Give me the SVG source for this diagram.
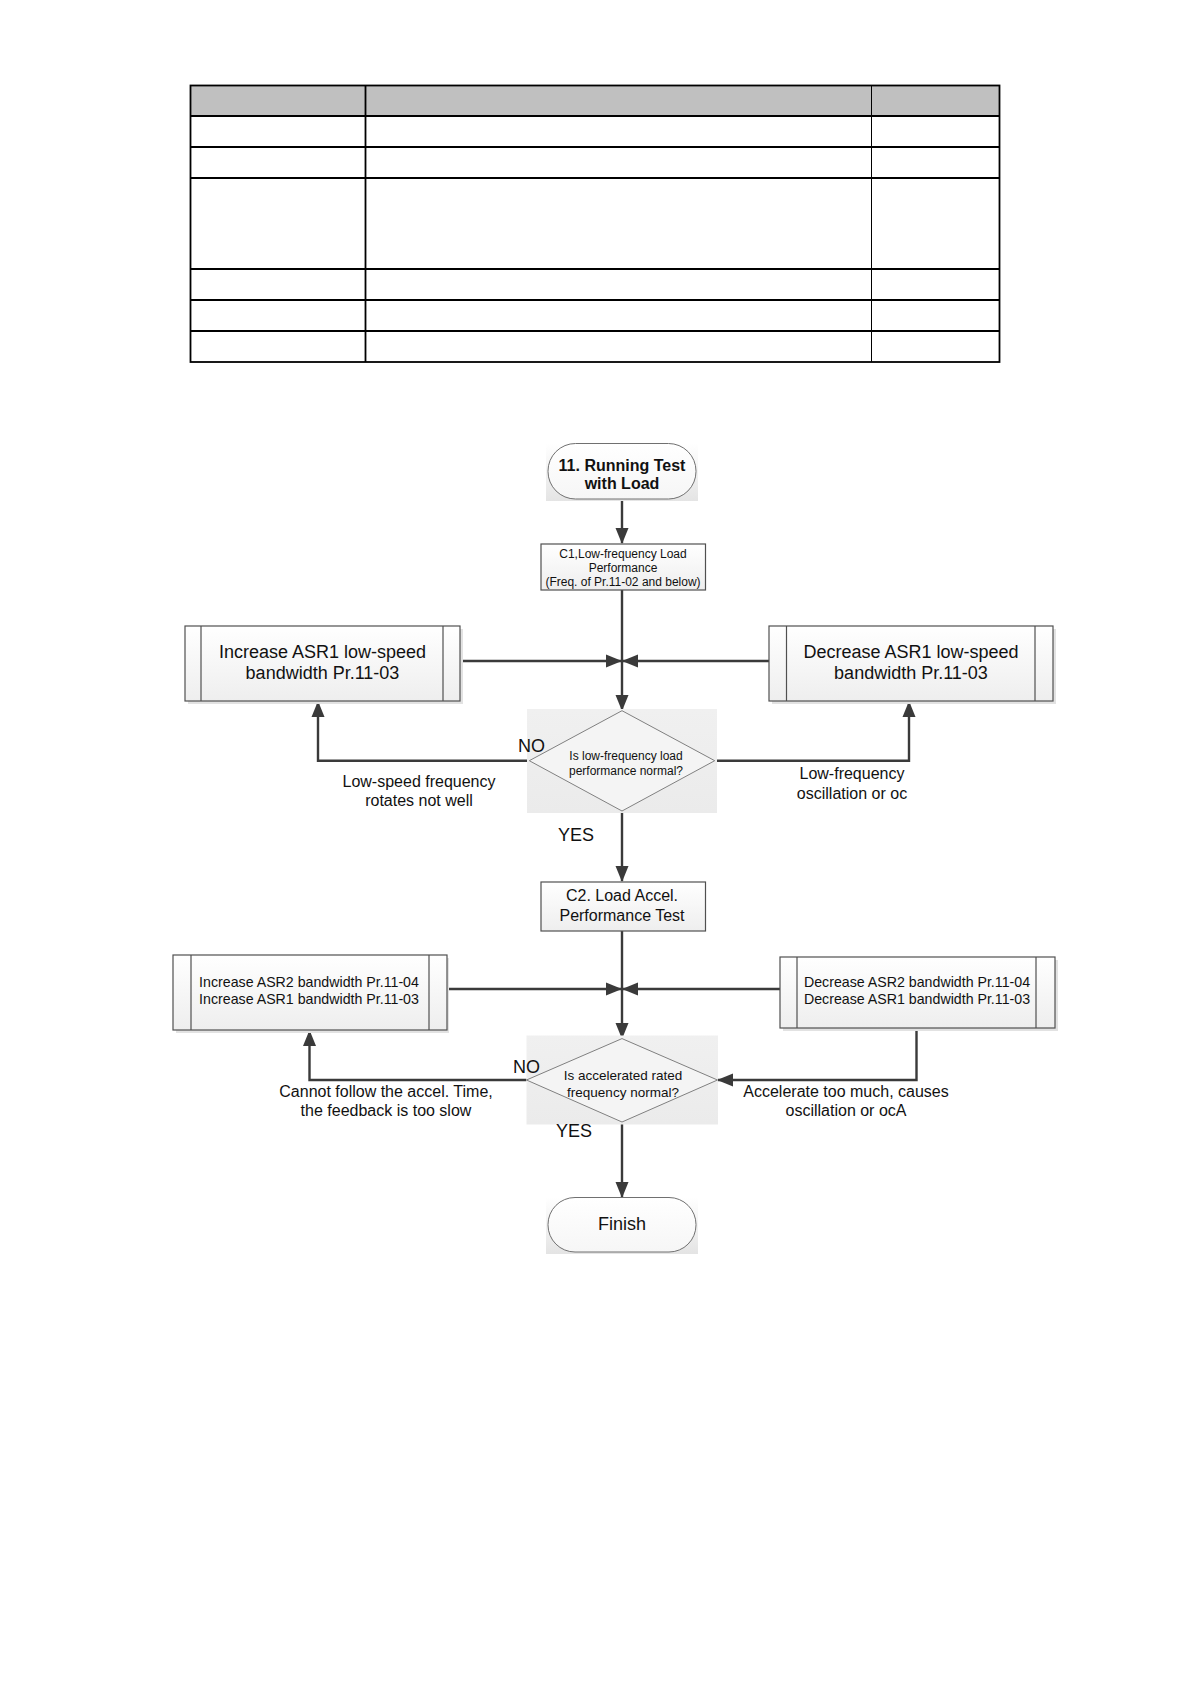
<svg xmlns="http://www.w3.org/2000/svg" width="1190" height="1684" viewBox="0 0 1190 1684">
<style>
.t{font-family:"Liberation Sans",Arial,sans-serif;fill:#111;text-anchor:middle}
.tb{stroke:#000;stroke-width:1.8;fill:none}
.conn{stroke:#3a3a3a;stroke-width:2.4;fill:none}
.box{fill:url(#gBox);stroke:#505050;stroke-width:1.2}
.inner{stroke:#505050;stroke-width:1.2}
.shadow{fill:#e2e2e2}
.term{fill:url(#gTerm);stroke:#707070;stroke-width:1}
.dbg{fill:url(#gDia)}
.dia{fill:#f4f4f4;stroke:#808080;stroke-width:1}
</style>
<defs>
<linearGradient id="gBox" x1="0" y1="0" x2="0" y2="1"><stop offset="0" stop-color="#ffffff"/><stop offset="1" stop-color="#eeeeee"/></linearGradient>
<linearGradient id="gTerm" x1="0" y1="0" x2="0" y2="1"><stop offset="0" stop-color="#ffffff"/><stop offset="1" stop-color="#f6f6f6"/></linearGradient>
<linearGradient id="gTermBg" x1="0" y1="0" x2="0" y2="1"><stop offset="0" stop-color="#ffffff"/><stop offset="1" stop-color="#e4e4e4"/></linearGradient>
<linearGradient id="gDia" x1="0" y1="0" x2="0" y2="1"><stop offset="0" stop-color="#f0f0f0"/><stop offset="1" stop-color="#ebebeb"/></linearGradient>
<marker id="arr" markerUnits="userSpaceOnUse" markerWidth="16" markerHeight="16" viewBox="0 0 16 16" refX="15" refY="8" orient="auto">
<path d="M0,1.5 L16,8 L0,14.5 Z" fill="#3a3a3a"/>
</marker>
</defs>

<g id="table">
<rect x="190.5" y="85.5" width="809" height="30.5" fill="#c0c0c0"/>
<rect class="tb" x="190.5" y="85.5" width="809" height="276.5"/>
<line class="tb" x1="190.5" y1="116" x2="999.5" y2="116"/>
<line class="tb" x1="190.5" y1="147" x2="999.5" y2="147"/>
<line class="tb" x1="190.5" y1="178" x2="999.5" y2="178"/>
<line class="tb" x1="190.5" y1="269" x2="999.5" y2="269"/>
<line class="tb" x1="190.5" y1="300" x2="999.5" y2="300"/>
<line class="tb" x1="190.5" y1="331" x2="999.5" y2="331"/>
<line class="tb" x1="365.5" y1="85.5" x2="365.5" y2="362"/>
<line x1="871.5" y1="85.5" x2="871.5" y2="362" stroke="#000" stroke-width="1"/>
</g>

<g id="connectors">
<path class="conn" d="M622 499 V543" marker-end="url(#arr)"/>
<path class="conn" d="M622 590 V710" marker-end="url(#arr)"/>
<path class="conn" d="M460 661 H621" marker-end="url(#arr)"/>
<path class="conn" d="M769 661 H623" marker-end="url(#arr)"/>
<path class="conn" d="M529 760.7 H318 V702" marker-end="url(#arr)"/>
<path class="conn" d="M715 760.7 H909 V702" marker-end="url(#arr)"/>
<path class="conn" d="M622 811 V881" marker-end="url(#arr)"/>
<path class="conn" d="M622 931 V1038" marker-end="url(#arr)"/>
<path class="conn" d="M447 989 H621" marker-end="url(#arr)"/>
<path class="conn" d="M780 989 H623" marker-end="url(#arr)"/>
<path class="conn" d="M526.5 1080 H309.5 V1031" marker-end="url(#arr)"/>
<path class="conn" d="M916.5 1028 V1080 H718" marker-end="url(#arr)"/>
<path class="conn" d="M622 1122 V1197" marker-end="url(#arr)"/>
</g>

<g id="start">
<rect x="546" y="444" width="152" height="57" fill="url(#gTermBg)"/>
<rect class="term" x="548" y="443.5" width="148" height="55.5" rx="27.5"/>
<text class="t" x="622" y="471" font-size="16" font-weight="bold">11. Running Test</text>
<text class="t" x="622" y="489" font-size="16" font-weight="bold">with Load</text>
</g>

<g id="c1">
<rect class="box" x="541" y="544" width="164.5" height="46"/>
<text class="t" x="623" y="558" font-size="12">C1,Low-frequency Load</text>
<text class="t" x="623" y="572" font-size="12">Performance</text>
<text class="t" x="623" y="586" font-size="12">(Freq. of Pr.11-02 and below)</text>
</g>

<g id="inc-asr1">
<rect class="shadow" x="188" y="629" width="275" height="75"/>
<rect class="box" x="185" y="626" width="275" height="75"/>
<line class="inner" x1="201" y1="626" x2="201" y2="701"/>
<line class="inner" x1="443" y1="626" x2="443" y2="701"/>
<text class="t" x="322.5" y="658" font-size="18">Increase ASR1 low-speed</text>
<text class="t" x="322.5" y="679" font-size="18">bandwidth Pr.11-03</text>
</g>

<g id="dec-asr1">
<rect class="shadow" x="772" y="629" width="284" height="75"/>
<rect class="box" x="769" y="626" width="284" height="75"/>
<line class="inner" x1="786.5" y1="626" x2="786.5" y2="701"/>
<line class="inner" x1="1035" y1="626" x2="1035" y2="701"/>
<text class="t" x="911" y="658" font-size="18">Decrease ASR1 low-speed</text>
<text class="t" x="911" y="679" font-size="18">bandwidth Pr.11-03</text>
</g>

<g id="decision1">
<rect class="dbg" x="527" y="709" width="190" height="104"/>
<polygon class="dia" points="622,710.7 714.7,760.7 622,811 529.3,760.7"/>
<text class="t" x="626" y="760" font-size="12">Is low-frequency load</text>
<text class="t" x="626" y="775" font-size="12">performance normal?</text>
</g>

<g id="labels1">
<text class="t" x="545" y="752" font-size="18" style="text-anchor:end">NO</text>
<text class="t" x="419" y="787" font-size="16">Low-speed frequency</text>
<text class="t" x="419" y="806" font-size="16">rotates not well</text>
<text class="t" x="852" y="779" font-size="16">Low-frequency</text>
<text class="t" x="852" y="799" font-size="16">oscillation or oc</text>
<text class="t" x="576" y="841" font-size="18">YES</text>
</g>

<g id="c2">
<rect class="box" x="541" y="882" width="164.5" height="49"/>
<text class="t" x="622" y="901" font-size="16">C2. Load Accel.</text>
<text class="t" x="622" y="921" font-size="16">Performance Test</text>
</g>

<g id="inc-asr2">
<rect class="shadow" x="176" y="958" width="273" height="75"/>
<rect class="box" x="173" y="955" width="274" height="75"/>
<line class="inner" x1="191" y1="955" x2="191" y2="1030"/>
<line class="inner" x1="429" y1="955" x2="429" y2="1030"/>
<text class="t" x="309" y="987" font-size="14.2">Increase ASR2 bandwidth Pr.11-04</text>
<text class="t" x="309" y="1004" font-size="14.2">Increase ASR1 bandwidth Pr.11-03</text>
</g>

<g id="dec-asr2">
<rect class="shadow" x="783" y="960" width="275" height="71"/>
<rect class="box" x="780" y="957" width="275" height="71"/>
<line class="inner" x1="797" y1="957" x2="797" y2="1028"/>
<line class="inner" x1="1036" y1="957" x2="1036" y2="1028"/>
<text class="t" x="917" y="987" font-size="14.2">Decrease ASR2 bandwidth Pr.11-04</text>
<text class="t" x="917" y="1004" font-size="14.2">Decrease ASR1 bandwidth Pr.11-03</text>
</g>

<g id="decision2">
<rect class="dbg" x="526.5" y="1035.5" width="191.5" height="89"/>
<polygon class="dia" points="622,1038.6 717.5,1080 622,1122 526.5,1080"/>
<text class="t" x="623" y="1079.5" font-size="13.5">Is accelerated rated</text>
<text class="t" x="623" y="1096.5" font-size="13.5">frequency normal?</text>
</g>

<g id="labels2">
<text class="t" x="540" y="1073" font-size="18" style="text-anchor:end">NO</text>
<text class="t" x="386" y="1097" font-size="16">Cannot follow the accel. Time,</text>
<text class="t" x="386" y="1116" font-size="16">the feedback is too slow</text>
<text class="t" x="846" y="1097" font-size="16">Accelerate too much, causes</text>
<text class="t" x="846" y="1116" font-size="16">oscillation or ocA</text>
<text class="t" x="574" y="1137" font-size="18">YES</text>
</g>

<g id="finish">
<rect x="546" y="1198" width="152" height="56" fill="url(#gTermBg)"/>
<rect class="term" x="548" y="1197.5" width="148" height="54.5" rx="27"/>
<text class="t" x="622" y="1230" font-size="18">Finish</text>
</g>
</svg>
